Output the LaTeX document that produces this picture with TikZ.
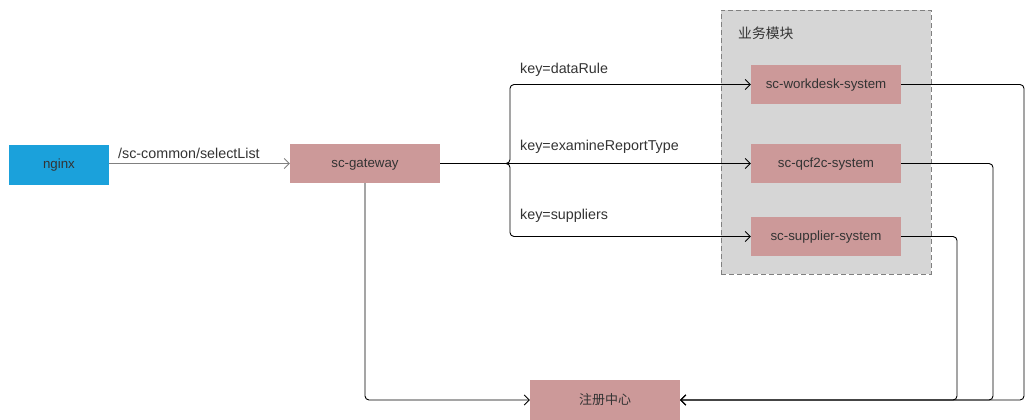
\documentclass[tikz,border=0pt]{standalone}
\usepackage{fontspec}
\setmainfont{Liberation Sans}
\newfontfamily\cjk{Noto Sans CJK SC}
\usetikzlibrary{arrows.meta,calc}
\definecolor{boxred}{RGB}{204,153,153}
\definecolor{nginxblue}{RGB}{27,161,219}
\definecolor{grpfill}{RGB}{214,214,214}
\definecolor{grpline}{RGB}{128,128,128}
\definecolor{txt}{RGB}{51,51,51}
\tikzset{
  svc/.style={fill=boxred, minimum width=150pt, minimum height=39pt, inner sep=0pt, text=txt, text height=8.5pt, text depth=0pt, font=\fontsize{13.3}{15}\selectfont},
  lbl/.style={anchor=west, inner sep=0pt, text=txt, font=\fontsize{14.3}{16}\selectfont},
  conn/.style={line width=0.9pt, black, rounded corners=4pt, -{Straight Barb[length=5pt,width=10pt]}},
}
\begin{document}
\begin{tikzpicture}[x=1pt,y=-1pt]
\useasboundingbox (0,0) rectangle (1028,420);
% group
\node[draw=grpline, dash pattern=on 5pt off 3pt, fill=grpfill, line width=0.9pt, minimum width=210pt, minimum height=264pt, inner sep=0pt] (grp) at (826,142) {};
\node[anchor=west, inner sep=0pt, text=txt, font=\cjk\fontsize{13.8}{16}\selectfont] (grplbl) at (738,33) {业务模块};
% nodes
\node[fill=nginxblue, minimum width=100pt, minimum height=40pt, inner sep=0pt, text=txt, text height=8.5pt, text depth=0pt, font=\fontsize{13.3}{15}\selectfont] (ngx) at (59,164.5) {nginx};
\node[svc] (gw) at (365,163.5) {sc-gateway};
\node[svc] (wd) at (826,84.5) {sc-workdesk-system};
\node[svc] (qc) at (826,163.5) {sc-qcf2c-system};
\node[svc] (sp) at (826,236.5) {sc-supplier-system};
\node[fill=boxred, minimum width=150pt, minimum height=40pt, inner sep=0pt, text=txt, font=\cjk\fontsize{13}{15}\selectfont] (reg) at (605,400) {注册中心};
% labels
\node[lbl] (l0) at (118,153) {/sc-common/selectList};
\node[lbl] (l1) at (520,69.5) {key=dataRule};
\node[lbl] (l2) at (520,147) {key=examineReportType};
\node[lbl] (l3) at (520,215.5) {key=suppliers};
% connectors
\draw[line width=0.8pt, grpline, -{Straight Barb[length=5pt,width=10pt]}] (ngx.east |- gw.west) -- (gw.west);
\coordinate (br) at (510,163.5);
\draw[conn] (gw.east) -- (br) |- (wd.west);
\draw[conn] (gw.east) -- (br) |- (sp.west);
\draw[conn] (gw.east) -- (qc.west);
\draw[conn] (gw.south) |- (reg.west);
\coordinate (r1) at (1024,400);
\coordinate (r2) at (993,400);
\coordinate (r3) at (957,400);
\draw[conn] (wd.east) -| (r1) -- (reg.east);
\draw[conn] (qc.east) -| (r2) -- (reg.east);
\draw[conn] (sp.east) -| (r3) -- (reg.east);
\end{tikzpicture}
\end{document}
